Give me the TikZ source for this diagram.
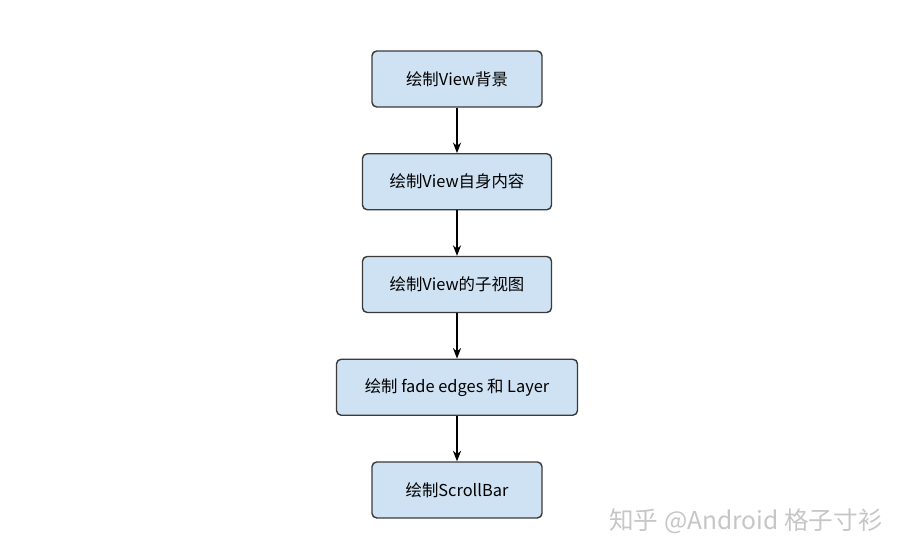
\documentclass[tikz,border=0pt]{standalone}
\usepackage{fontspec}
\setmainfont{Noto Sans CJK SC}
\usetikzlibrary{positioning,arrows.meta}
\definecolor{boxfill}{HTML}{CFE2F3}
\definecolor{boxline}{HTML}{3A3A3A}
\tikzset{
  stage/.style={draw=boxline, fill=boxfill, line width=1.2pt, rounded corners=4pt,
    minimum height=1.68cm, font=\fontsize{14}{16}\selectfont, inner sep=0pt},
  flow/.style={-{Stealth[length=9pt,width=7pt]}, line width=1pt}
}
\begin{document}
\begin{tikzpicture}[x=0.03cm, y=-0.03cm, node distance=1.36cm]
    \useasboundingbox (0,0) rectangle (917,559);
    % steps top to bottom
    \node[stage, minimum width=5.1cm] (bg) at (457,79) {绘制View背景};
    \node[stage, minimum width=5.67cm, below=of bg] (self) {绘制View自身内容};
    \node[stage, minimum width=5.67cm, below=of self] (child) {绘制View的子视图};
    \node[stage, minimum width=7.23cm, below=of child] (fade) {绘制 fade edges 和 Layer};
    \node[stage, minimum width=5.1cm, below=of fade] (bar) {绘制ScrollBar};

    \draw[flow] (bg) -- (self);
    \draw[flow] (self) -- (child);
    \draw[flow] (child) -- (fade);
    \draw[flow] (fade) -- (bar);

    \node[text=gray!45, font=\fontsize{21}{24}\selectfont] (mark) at (746,521) {知乎 @Android 格子寸衫};
\end{tikzpicture}
\end{document}
